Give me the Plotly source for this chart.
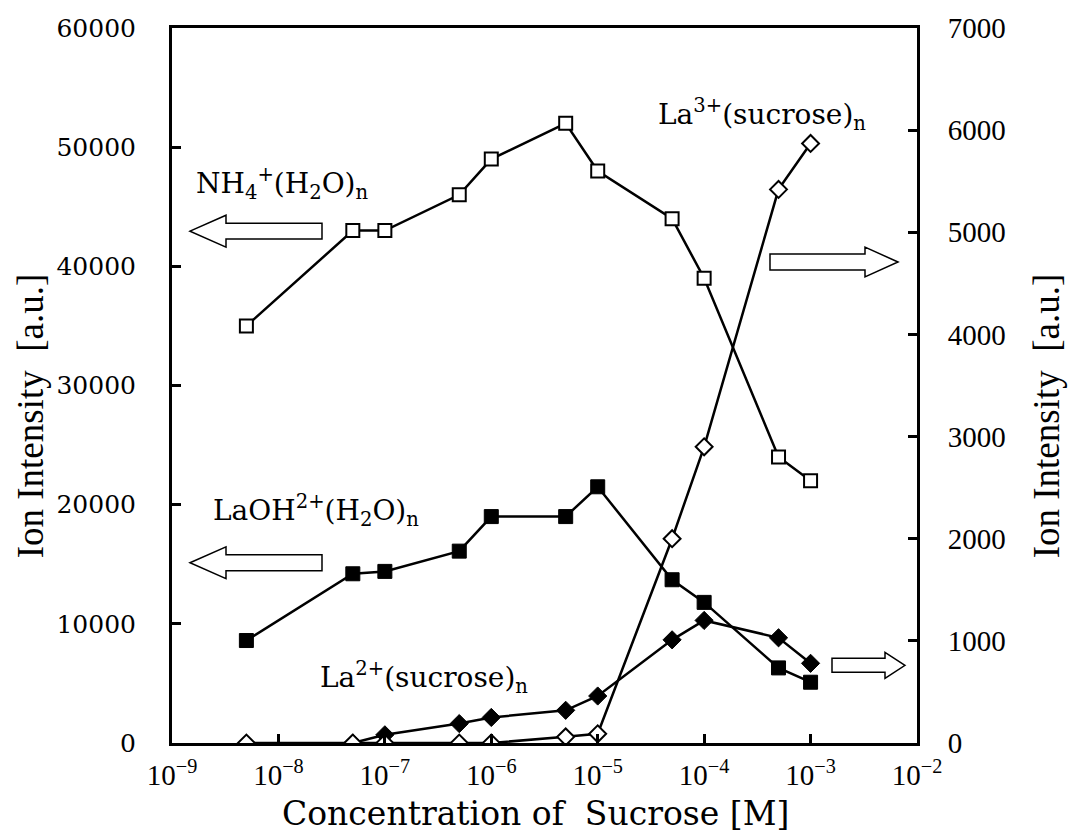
import plotly.graph_objects as go

# ---------------- data ----------------
conc = [5e-9, 5e-8, 1e-7, 5e-7, 1e-6, 5e-6, 1e-5, 5e-5, 1e-4, 5e-4, 1e-3]
nh4_h2o = [35000, 43000, 43000, 46000, 49000, 52000, 48000, 44000, 39000, 24000, 22000]
laoh_h2o = [8600, 14200, 14400, 16100, 19000, 19000, 21500, 13700, 11800, 6300, 5100]
conc_la2 = [5e-8, 1e-7, 5e-7, 1e-6, 5e-6, 1e-5, 5e-5, 1e-4, 5e-4, 1e-3]
la2_sucrose = [0, 80, 190, 250, 320, 460, 1010, 1200, 1030, 780]
la3_sucrose = [0, 0, 0, 0, 0, 60, 90, 2000, 2900, 5420, 5870]

x_tickvals = [1e-9, 1e-8, 1e-7, 1e-6, 1e-5, 1e-4, 1e-3, 1e-2]
x_ticktext = ["10<sup>\u22129</sup>", "10<sup>\u22128</sup>", "10<sup>\u22127</sup>",
              "10<sup>\u22126</sup>", "10<sup>\u22125</sup>", "10<sup>\u22124</sup>",
              "10<sup>\u22123</sup>", "10<sup>\u22122</sup>"]
y_tickvals = [0, 10000, 20000, 30000, 40000, 50000, 60000]
y_ticktext = ["0", "10000", "20000", "30000", "40000", "50000", "60000"]
y2_tickvals = [0, 1000, 2000, 3000, 4000, 5000, 6000, 7000]
y2_ticktext = ["0", "1000", "2000", "3000", "4000", "5000", "6000", "7000"]

# ---------------- layout geometry ----------------
W, H = 1071, 835
ML, MR, MT, MB = 172, 154, 25, 92
PW, PH = W - ML - MR, H - MT - MB
Y0 = H - MB

def pp(x, y):
    return (x - ML) / PW, (Y0 - y) / PH

SERIF_W = "DejaVu Serif"
SERIF_N = "Liberation Serif"

fig = go.Figure()
line_style = dict(color="black", width=2.5)

fig.add_trace(go.Scatter(x=conc, y=nh4_h2o, mode="lines+markers", line=line_style,
                         marker=dict(symbol="square", size=13, color="white",
                                     line=dict(color="black", width=2)),
                         showlegend=False))
fig.add_trace(go.Scatter(x=conc, y=laoh_h2o, mode="lines+markers", line=line_style,
                         marker=dict(symbol="square", size=14, color="black",
                                     line=dict(color="black", width=1)),
                         showlegend=False))
fig.add_trace(go.Scatter(x=conc_la2, y=la2_sucrose, mode="lines+markers", line=line_style,
                         yaxis="y2",
                         marker=dict(symbol="diamond", size=14, color="black",
                                     line=dict(color="black", width=1)),
                         showlegend=False))
fig.add_trace(go.Scatter(x=conc, y=la3_sucrose, mode="lines+markers", line=line_style,
                         yaxis="y2",
                         marker=dict(symbol="diamond", size=13, color="white",
                                     line=dict(color="black", width=2)),
                         showlegend=False))

# ---------------- hollow block arrows ----------------
def block_arrow(x_tip, x_tail, yc, hh, bh, hl):
    d = 1 if x_tail > x_tip else -1
    pts = [(x_tip, yc), (x_tip + d * hl, yc - hh), (x_tip + d * hl, yc - bh),
           (x_tail, yc - bh), (x_tail, yc + bh), (x_tip + d * hl, yc + bh),
           (x_tip + d * hl, yc + hh)]
    path = "M " + " L ".join("%.5f,%.5f" % pp(px, py) for px, py in pts) + " Z"
    return dict(type="path", xref="paper", yref="paper", path=path,
                fillcolor="white", line=dict(color="black", width=1.5))

shapes = [
    block_arrow(190, 322, 229, 16, 8, 36),
    block_arrow(190, 322, 562, 16, 8, 36),
    block_arrow(898, 770, 260, 15, 8, 33),
    block_arrow(905, 832, 665, 13, 7, 20),
]

# ---------------- annotations ----------------
def label(text, x, y, size=28, font=SERIF_W, xanchor="left", angle=0):
    px, py = pp(x, y)
    return dict(text=text, x=px, y=py, xref="paper", yref="paper", showarrow=False,
                xanchor=xanchor, yanchor="middle", textangle=angle,
                font=dict(family=font, size=size, color="black"))

annotations = [
    label("NH<sub>4</sub><sup>+</sup>(H<sub>2</sub>O)<sub>n</sub>", 194, 181),
    label("LaOH<sup>2+</sup>(H<sub>2</sub>O)<sub>n</sub>", 211, 510),
    label("La<sup>2+</sup>(sucrose)<sub>n</sub>", 318, 677),
    label("La<sup>3+</sup>(sucrose)<sub>n</sub>", 656, 112),
    label("Concentration of  Sucrose [M]", 535, 814, size=33, xanchor="center"),
    label("Ion Intensity  [a.u.]", 30, 415, size=37, font=SERIF_N, xanchor="center", angle=-90),
    label("Ion Intensity  [a.u.]", 1046, 415, size=37, font=SERIF_N, xanchor="center", angle=-90),
]

axis_common = dict(showline=True, linecolor="black", linewidth=3, showgrid=False,
                   zeroline=False, ticks="inside", tickcolor="black", tickwidth=3, ticklen=9)

fig.update_layout(
    width=W, height=H,
    margin=dict(l=ML, r=MR, t=MT, b=MB),
    paper_bgcolor="white", plot_bgcolor="white",
    xaxis=dict(type="log", range=[-9, -2], tickvals=x_tickvals, ticktext=x_ticktext,
               mirror=True, tickfont=dict(family=SERIF_N, size=29, color="black"),
               ticklabelstandoff=4, **axis_common),
    yaxis=dict(range=[0, 60000], tickvals=y_tickvals, ticktext=y_ticktext,
               mirror=True, tickfont=dict(family=SERIF_W, size=25, color="black"),
               ticklabelstandoff=28, **axis_common),
    yaxis2=dict(range=[0, 7000], overlaying="y", side="right",
                tickvals=y2_tickvals, ticktext=y2_ticktext,
                tickfont=dict(family=SERIF_N, size=29, color="black"),
                ticklabelstandoff=22, **axis_common),
    shapes=shapes,
    annotations=annotations,
)

fig.write_html("out.html", config={"displayModeBar": False},
               post_script="document.body.style.margin='0';document.body.style.overflow='hidden';")
